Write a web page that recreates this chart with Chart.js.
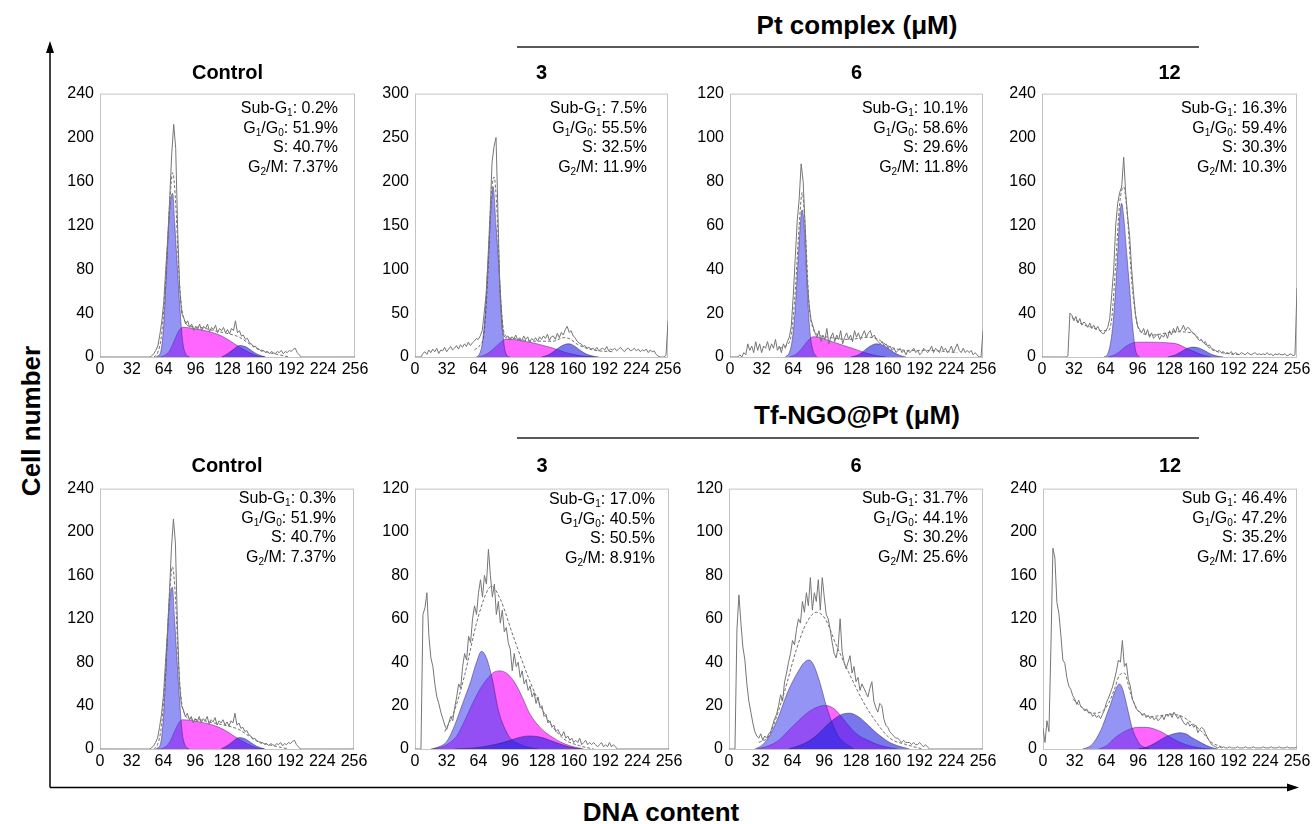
<!DOCTYPE html>
<html>
<head>
<meta charset="utf-8">
<script src="https://cdn.jsdelivr.net/npm/chart.js@4.4.1/dist/chart.umd.min.js"></script>
<style>
  body { margin: 0; width: 1312px; height: 824px; background: #fff; position: relative; overflow: hidden;
         font-family: "Liberation Sans", Arial, sans-serif; color: #000; }
  .box { position: absolute; }
  .ttl { position: absolute; font-weight: bold; font-size: 20px; transform: translate(-50%, -50%); white-space: nowrap; }
  .head { position: absolute; font-weight: bold; font-size: 26px; transform: translate(-50%, -50%); white-space: nowrap; }
  .ann { position: absolute; text-align: right; font-size: 16px; line-height: 19.5px; white-space: nowrap; }
  .ann sub { font-size: 10px; vertical-align: -3px; line-height: 0; }
  .axlab { position: absolute; font-weight: bold; font-size: 26px; white-space: nowrap; }
</style>
</head>
<body>
<svg width="1312" height="824" style="position:absolute;left:0;top:0">
  <line x1="517" y1="47" x2="1199" y2="47" stroke="#222" stroke-width="1.5"/>
  <line x1="517" y1="438" x2="1199" y2="438" stroke="#222" stroke-width="1.5"/>
  <line x1="50" y1="787.5" x2="50" y2="50" stroke="#000" stroke-width="1.5"/>
  <polygon points="50,41 46,53 54,53" fill="#000"/>
  <line x1="50" y1="787.5" x2="1290" y2="787.5" stroke="#000" stroke-width="1.5"/>
  <polygon points="1299,787.5 1287,783.5 1287,791.5" fill="#000"/>
</svg>
<div class="head" style="left:857px;top:25px">Pt complex (μM)</div>
<div class="head" style="left:857px;top:415px">Tf-NGO@Pt (μM)</div>
<div class="axlab" style="left:31px;top:421px;transform:translate(-50%,-50%) rotate(-90deg)">Cell number</div>
<div class="axlab" style="left:661px;top:812px;transform:translate(-50%,-50%)">DNA content</div>

<script>
// histogram channels (every 2nd channel, 0..256)
const channels = Array.from({ length: 129 }, (_, i) => i * 2);

// ---- raw histograms, one value per 2 channels (rows of 10 = 20 channels) ----
const ctrlRaw = [
  0,0,0,0,0,0,0,0,0,0,
  0,0,0,0,0,0,0,0,0,0,
  0,0,0,0,0,0,1,3,6,10,
  20,32,50,80,108,145,185,212,190,115,
  62,40,36,30,33,27,30,24,28,25,
  30,24,28,26,30,23,27,25,29,22,
  26,24,27,22,25,21,26,24,33,22,
  24,19,20,16,17,13,12,9,10,7,
  7,5,6,4,5,3,5,4,3,5,
  4,6,3,5,4,6,5,7,8,4,
  2,0,0,0,0,0,0,0,0,0,
  0,0,0,0,0,0,0,0,0,0,
  0,0,0,0,0,0,0,0,0
];
const pt3Raw = [
  0,0,0,0,4,6,3,8,5,9,
  6,10,4,8,7,11,6,9,12,8,
  10,13,9,14,11,15,12,17,13,16,
  18,21,20,24,30,50,72,115,165,222,
  240,250,160,72,32,24,22,24,19,23,
  21,25,19,22,18,24,20,23,17,21,
  19,22,18,23,20,24,21,26,19,23,
  24,20,27,22,28,25,31,35,28,30,
  24,22,18,16,15,12,13,10,11,9,
  10,8,11,7,9,10,8,12,7,9,
  8,10,7,9,11,8,6,9,10,7,
  8,10,7,9,6,8,7,9,5,8,
  6,7,3,1,0,0,0,2,41
];
const pt6Raw = [
  0,0,0,0,0,1,0,2,1,6,
  3,5,2,7,3,6,2,5,4,7,
  3,6,4,8,3,5,2,6,4,7,
  9,14,28,45,62,72,88,80,60,36,
  24,17,14,11,9,12,7,10,8,13,
  6,9,11,7,10,8,12,6,9,11,
  8,10,7,12,9,11,8,10,12,9,
  11,12,9,10,8,7,6,7,5,6,
  4,5,3,4,2,3,4,2,3,1,
  3,2,3,4,2,3,1,2,4,3,
  2,3,5,2,4,3,2,5,3,4,
  2,3,5,2,4,6,3,2,4,2,
  3,2,3,1,2,1,0,0,12
];
const pt12Raw = [
  0,0,0,0,0,0,0,0,0,0,
  0,0,0,1,40,38,33,37,31,35,
  29,32,30,27,31,26,29,25,28,24,
  22,21,24,27,35,57,80,120,140,150,
  155,182,150,128,110,80,57,38,28,25,
  22,26,20,25,18,22,17,19,21,16,
  20,18,22,17,24,20,26,22,28,23,
  25,29,24,27,26,23,22,20,17,15,
  16,13,14,10,11,8,7,6,5,6,
  4,5,3,4,3,5,2,4,3,2,
  4,3,2,4,3,2,3,4,2,3,
  2,3,2,4,2,3,1,3,2,3,
  2,2,3,1,2,3,1,2,63
];
const tf3Raw = [
  0,0,0,0,62,65,72,52,42,38,
  30,24,21,17,14,11,9,12,15,13,
  19,24,30,28,38,44,41,52,49,60,
  66,62,72,78,70,80,76,92,80,70,
  76,62,68,58,64,54,56,49,46,36,
  44,38,40,33,36,30,32,27,29,24,
  26,21,24,19,20,15,16,12,13,10,
  11,8,9,7,6,8,5,6,4,5,
  3,4,3,5,2,3,4,2,3,2,
  3,2,1,2,3,1,2,1,3,1,
  2,1,0,0,0,0,0,0,0,0,
  0,0,0,0,0,0,0,0,0,0,
  0,0,0,0,0,0,0,0,0
];
const tf6Raw = [
  0,0,0,0,55,71,58,47,41,30,
  22,17,12,8,6,5,7,4,6,5,
  7,8,11,14,16,20,25,22,31,35,
  40,44,50,48,55,60,58,68,63,72,
  66,79,64,72,68,78,64,79,70,62,
  60,55,49,44,42,47,60,45,40,37,
  40,43,35,38,31,33,27,30,28,26,
  24,28,31,22,19,17,21,20,14,11,
  10,8,7,6,5,5,4,3,4,3,
  3,3,2,3,2,2,3,2,1,2,
  1,0,0,0,0,0,0,0,0,0,
  0,0,0,0,0,0,0,0,0,0,
  0,0,0,0,0,0,0,0,0
];
const tf12Raw = [
  19,6,26,16,95,185,176,135,125,105,
  82,79,66,58,55,49,46,41,45,39,
  38,35,37,33,34,30,32,29,31,28,
  32,36,43,47,52,57,64,72,82,80,
  100,76,79,64,58,46,42,37,35,34,
  31,33,29,31,28,30,27,29,26,28,
  31,27,32,30,33,29,34,31,28,31,
  27,24,22,25,21,23,20,22,15,18,
  20,18,14,10,7,4,3,2,1,2,
  1,2,1,1,2,1,1,1,2,1,
  1,1,2,1,1,1,2,1,1,1,
  1,2,1,1,1,2,1,1,1,2,
  1,1,1,2,1,1,1,1,2
];

// ---- fitted model curves (dashed) ----
const ctrlFitX = [54,58,62,66,70,73,76,79,82,86,90,100,110,120,130,140,150,160,170,180,190];
const ctrlFitY = [0,4,22,70,140,168,140,80,45,31,28,27,25,23,21,18,12,7,4,2,0];
const pt3FitX = [60,66,70,74,77,80,83,86,89,92,100,120,140,150,156,165,180,200];
const pt3FitY = [8,14,28,100,180,205,165,80,35,24,21,18,18,22,21,14,8,6];
const pt6FitX = [50,56,62,66,70,73,76,80,84,90,100,120,140,150,160,180,200,230];
const pt6FitY = [4,5,10,30,60,75,60,24,13,10,9,8,9,8,5,3,3,2];
const pt12FitX = [30,40,50,60,66,70,74,78,82,86,90,95,100,110,135,150,160,170,180,200];
const pt12FitY = [36,30,27,24,24,35,85,140,155,125,70,32,22,20,23,22,15,7,4,2];
const tf3FitX = [30,40,50,62,72,77,86,99,116,132,149,166,180];
const tf3FitY = [8,18,34,58,72,75,69,52,31,15,5,1.5,0];
const tf6FitX = [30,40,55,68,78,88,97,108,122,135,149,162,179,195];
const tf6FitY = [3,6,25,46,58,63,60,48,34,22,12,5,2,0];
const tf12FitX = [30,40,50,60,66,72,77,82,88,94,100,110,120,130,140,150,160,170,180];
const tf12FitY = [46,38,33,35,42,55,68,70,52,38,32,30,31,32,30,24,16,6,2];

// ---- G1/G0, S and G2/M components ----
const ctrlG1X = [56,58,61,64,66,68,70,72,73,75,77,79,81,83,86,90];
const ctrlG1Y = [0,1,5,30,65,105,135,148,149,122,92,62,35,14,3,0];
const ctrlSX = [58,64,70,76,80,84,90,100,110,120,130,140,150,158,166];
const ctrlSY = [0,1,6,18,25,27,26.5,25,23,20,15,9,4,1,0];
const ctrlG2X = [122,128,134,140,146,152,158,166];
const ctrlG2Y = [0,3,7,10.5,9.5,6,2.5,0];

const pt3G1X = [62,65,68,71,74,77,79,82,85,88,90,93,96];
const pt3G1Y = [0,3,15,50,110,170,194,150,100,45,15,2,0];
const pt3SX = [64,70,76,82,88,92,100,110,120,130,140,150,160,170,182];
const pt3SY = [0,2,6,12,18,20.5,20,18,16,13,10,6,3,1,0];
const pt3G2X = [128,134,140,146,152,156,162,168,174,180,186];
const pt3G2Y = [0,2,6,11,14.5,15,12,7,3,1,0];

const pt6G1X = [56,60,63,66,69,72,73,75,77,79,81,84,88];
const pt6G1Y = [0,2,8,22,45,65,67,60,42,24,11,3,0];
const pt6SX = [60,66,72,78,84,90,100,110,120,130,140,150,158];
const pt6SY = [0,1,3.5,7,9.2,9,7.5,6,4.5,3,1.5,0.5,0];
const pt6G2X = [122,130,136,142,148,154,160,166,172,178];
const pt6G2Y = [0,1,3,5,6,5.5,4,2,0.7,0];

const pt12G1X = [62,66,70,73,76,78,80,82,85,88,91,94,98];
const pt12G1Y = [0,3,20,50,95,128,140,128,95,62,28,6,0];
const pt12SX = [66,72,78,84,90,96,110,125,135,145,155,162,170];
const pt12SY = [0,1.5,5,9.5,12.5,13.5,13.5,13,12,8,4,1.5,0];
const pt12G2X = [126,134,140,146,152,158,164,170,176,182];
const pt12G2Y = [0,2,5,8,9,8,5.5,2.5,0.8,0];

const tf3G1X = [16,24,32,40,48,56,62,67,72,78,84,90,96,104,112,124];
const tf3G1Y = [0,1,3.5,11,21,31,40,45,42,32,18,10,5,2.5,1,0];
const tf3SX = [18,30,42,50,58,66,74,80,86,92,100,108,116,124,132,140,150,160,170];
const tf3SY = [0,1.5,6,13,21,28,33,35.5,36,35,31,24,16,11,7.5,5,2.5,1,0];
const tf3G2X = [40,60,80,95,105,115,125,135,145,155,168];
const tf3G2Y = [0,0.5,2,3.8,5.3,6,5.6,4.2,2.5,1,0];

const tf6G1X = [26,34,42,50,58,64,70,76,81,86,92,98,104,110,116,126];
const tf6G1Y = [0,2,7,15,25,31,36,40,41,38,30,20,12,6,3,0];
const tf6SX = [28,40,50,60,70,80,90,98,106,114,122,130,140,150,160,170];
const tf6SY = [0,1.5,4,8.5,13,17,19.5,20,18.5,14.5,10,6.5,4,2,0.8,0];
const tf6G2X = [60,70,80,90,100,108,116,122,130,138,146,154,162,170,182];
const tf6G2Y = [0,1.5,3.5,7,11.5,14.5,16.3,16.5,15,12,8.5,5.5,3,1.5,0];

const tf12G1X = [40,48,54,60,64,68,72,77,80,83,86,90,94,98,102,108];
const tf12G1Y = [0,3,10,21,31,41,52,60,56,46,34,19,10,4,1.5,0];
const tf12SX = [56,64,72,80,88,96,104,112,120,128,136,144,152,160,170];
const tf12SY = [0,3,10,15,18.5,20,20,18.5,15.5,11,7,4,2,0.7,0];
const tf12G2X = [96,104,112,120,128,134,138,144,150,156,162,168,176];
const tf12G2Y = [0,1.5,5,9.5,13,14.5,15,14,10.5,7.5,4.5,2,0];

// ---- panel labels and cell-cycle percentages ----
const panelTitles = ['Control', '3', '6', '12', 'Control', '3', '6', '12'];
const yMaxes = [240, 300, 120, 240, 240, 120, 120, 240];
const subLabels = ['Sub-G', 'Sub-G', 'Sub-G', 'Sub-G', 'Sub-G', 'Sub-G', 'Sub-G', 'Sub G'];
const subG1 = ['0.2%', '7.5%', '10.1%', '16.3%', '0.3%', '17.0%', '31.7%', '46.4%'];
const g1g0 = ['51.9%', '55.5%', '58.6%', '59.4%', '51.9%', '40.5%', '44.1%', '47.2%'];
const sPhase = ['40.7%', '32.5%', '29.6%', '30.3%', '40.7%', '50.5%', '30.2%', '35.2%'];
const g2m = ['7.37%', '11.9%', '11.8%', '10.3%', '7.37%', '8.91%', '25.6%', '17.6%'];

// series per panel
const series = [
  [ctrlRaw, ctrlFitX, ctrlFitY, ctrlG1X, ctrlG1Y, ctrlSX, ctrlSY, ctrlG2X, ctrlG2Y],
  [pt3Raw, pt3FitX, pt3FitY, pt3G1X, pt3G1Y, pt3SX, pt3SY, pt3G2X, pt3G2Y],
  [pt6Raw, pt6FitX, pt6FitY, pt6G1X, pt6G1Y, pt6SX, pt6SY, pt6G2X, pt6G2Y],
  [pt12Raw, pt12FitX, pt12FitY, pt12G1X, pt12G1Y, pt12SX, pt12SY, pt12G2X, pt12G2Y],
  [ctrlRaw, ctrlFitX, ctrlFitY, ctrlG1X, ctrlG1Y, ctrlSX, ctrlSY, ctrlG2X, ctrlG2Y],
  [tf3Raw, tf3FitX, tf3FitY, tf3G1X, tf3G1Y, tf3SX, tf3SY, tf3G2X, tf3G2Y],
  [tf6Raw, tf6FitX, tf6FitY, tf6G1X, tf6G1Y, tf6SX, tf6SY, tf6G2X, tf6G2Y],
  [tf12Raw, tf12FitX, tf12FitY, tf12G1X, tf12G1Y, tf12SX, tf12SY, tf12G2X, tf12G2Y]
];

// plot-box geometry (left, right, top, bottom) and text offsets
const boxes = [
  [100, 355, 88, 357], [415, 668, 88, 357], [730, 983, 88, 357], [1042, 1297, 88, 357],
  [100, 354, 483, 749], [415, 669, 483, 749], [729, 983, 483, 749], [1043, 1297, 483, 749]
];
const annRight = [17, 21, 15, 10, 18, 14, 15, 10];
const annTop = [10, 10, 10, 10, 5, 6, 5, 5];

const FONT = '"Liberation Sans", Arial, sans-serif';
const PAD_L = 50, PAD_T = 10, PAD_R = 18, PAD_B = 26;

const frame = {
  id: 'frame',
  beforeDatasetsDraw(chart) {
    const a = chart.chartArea, ctx = chart.ctx;
    ctx.save();
    ctx.strokeStyle = '#c4c4c4';
    ctx.lineWidth = 1;
    ctx.strokeRect(a.left + 0.5, a.top + 0.5, a.right - a.left - 1, a.bottom - a.top);
    ctx.restore();
  }
};

const pts = (xs, ys) => xs.map((x, i) => ({ x: x, y: ys[i] }));
const outline = 'rgba(40,20,90,0.75)';

series.forEach((s, k) => {
  const [raw, fx, fy, g1x, g1y, sx, sy, g2x, g2y] = s;
  const [l, r, t, b] = boxes[k];

  const wrap = document.createElement('div');
  wrap.className = 'box';
  wrap.style.left = (l - PAD_L) + 'px';
  wrap.style.top = (t - PAD_T) + 'px';
  wrap.style.width = (r - l + PAD_L + PAD_R) + 'px';
  wrap.style.height = (b - t + PAD_T + PAD_B) + 'px';
  const cv = document.createElement('canvas');
  wrap.appendChild(cv);
  document.body.appendChild(wrap);

  new Chart(cv, {
    type: 'line',
    data: {
      datasets: [
        { data: raw.map((y, i) => ({ x: channels[i], y: y })), borderColor: '#767676', borderWidth: 1,
          pointRadius: 0, tension: 0, fill: false, order: 0 },
        { data: pts(fx, fy), borderColor: '#4a4a4a', borderWidth: 0.8, borderDash: [3, 2],
          pointRadius: 0, cubicInterpolationMode: 'monotone', fill: false, order: 1 },
        { data: pts(g2x, g2y), borderColor: outline, borderWidth: 0.6, backgroundColor: 'rgba(30,30,225,0.6)',
          pointRadius: 0, cubicInterpolationMode: 'monotone', fill: 'origin', order: 2 },
        { data: pts(g1x, g1y), borderColor: outline, borderWidth: 0.6, backgroundColor: 'rgba(60,60,235,0.55)',
          pointRadius: 0, cubicInterpolationMode: 'monotone', fill: 'origin', order: 3 },
        { data: pts(sx, sy), borderColor: outline, borderWidth: 0.6, backgroundColor: 'rgba(255,0,255,0.6)',
          pointRadius: 0, cubicInterpolationMode: 'monotone', fill: 'origin', order: 4 }
      ]
    },
    options: {
      responsive: true,
      maintainAspectRatio: false,
      animation: false,
      layout: { padding: { left: 0, top: PAD_T, right: PAD_R, bottom: 0 } },
      plugins: { legend: { display: false }, tooltip: { enabled: false } },
      scales: {
        x: {
          type: 'linear', min: 0, max: 256,
          ticks: { stepSize: 32, autoSkip: false, maxRotation: 0, color: '#000', padding: 3,
                   font: { size: 16, family: FONT } },
          grid: { display: false, drawTicks: false },
          border: { display: false },
          afterFit: sc => { sc.height = PAD_B; }
        },
        y: {
          min: 0, max: yMaxes[k],
          ticks: { stepSize: yMaxes[k] / 6, color: '#000', padding: 6, font: { size: 16, family: FONT } },
          grid: { display: false, drawTicks: false },
          border: { display: false },
          afterFit: sc => { sc.width = PAD_L; }
        }
      }
    },
    plugins: [frame]
  });

  const ttl = document.createElement('div');
  ttl.className = 'ttl';
  ttl.textContent = panelTitles[k];
  ttl.style.left = ((l + r) / 2) + 'px';
  ttl.style.top = (k < 4 ? 72 : 465) + 'px';
  document.body.appendChild(ttl);

  const ann = document.createElement('div');
  ann.className = 'ann';
  ann.style.right = (1312 - (r - annRight[k])) + 'px';
  ann.style.top = (t + annTop[k]) + 'px';
  ann.innerHTML = subLabels[k] + '<sub>1</sub>: ' + subG1[k] + '<br>' +
    'G<sub>1</sub>/G<sub>0</sub>: ' + g1g0[k] + '<br>' +
    'S: ' + sPhase[k] + '<br>' +
    'G<sub>2</sub>/M: ' + g2m[k];
  document.body.appendChild(ann);
});
</script>
</body>
</html>
